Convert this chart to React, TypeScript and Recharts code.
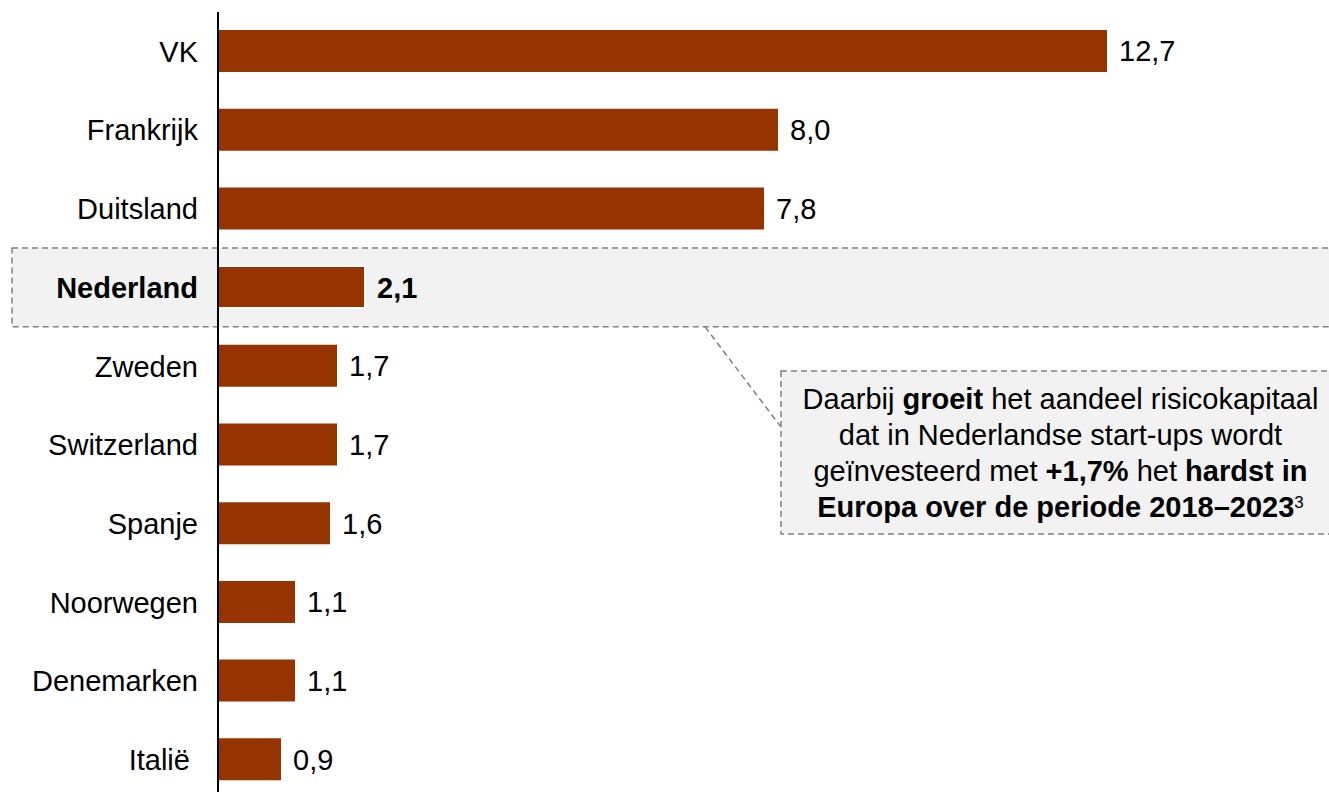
import { BarChart, Bar, XAxis, YAxis, Cell, LabelList } from 'recharts';

const categories = [
  'VK',
  'Frankrijk',
  'Duitsland',
  'Nederland',
  'Zweden',
  'Switzerland',
  'Spanje',
  'Noorwegen',
  'Denemarken',
  'Italië\u00a0',
];
const values = [12.7, 8.0, 7.8, 2.1, 1.7, 1.7, 1.6, 1.1, 1.1, 0.9];
const highlighted = 'Nederland';

const data = categories.map((name, i) => ({ name, value: values[i] }));

const WIDTH = 1329;
const HEIGHT = 799;
const TOP = 12;
const AXIS_W = 218;
const BAR_COLOR = '#963400';
const FONT = '"Liberation Sans", Arial, sans-serif';
const FONT_SIZE = 29;

const band = (HEIGHT - TOP) / categories.length;
const hlIndex = categories.indexOf(highlighted);
const hlTop = TOP + hlIndex * band;
const hlBottom = hlTop + band;

const fmt = (v: number) => v.toFixed(1).replace('.', ',');

const CategoryTick = (props: any) => {
  const { x, y, payload } = props;
  return (
    <text
      x={x}
      y={y}
      dy="0.36em"
      textAnchor="end"
      fill="#000"
      fontSize={FONT_SIZE}
      fontFamily={FONT}
      fontWeight={payload.value === highlighted ? 'bold' : 'normal'}
    >
      {payload.value}
    </text>
  );
};

const ValueLabel = (props: any) => {
  const { x, y, width, height, value, index } = props;
  return (
    <text
      x={x + width + 12}
      y={y + height / 2}
      dy="0.36em"
      fill="#000"
      fontSize={FONT_SIZE}
      fontFamily={FONT}
      fontWeight={categories[index] === highlighted ? 'bold' : 'normal'}
    >
      {fmt(value)}
    </text>
  );
};

export default function App() {
  return (
    <div style={{ position: 'absolute', left: 0, top: 0, width: WIDTH, height: HEIGHT, fontFamily: FONT }}>
      {/* highlight band behind Nederland */}
      <svg width={WIDTH} height={HEIGHT} style={{ position: 'absolute', left: 0, top: 0 }}>
        <rect
          x={12}
          y={hlTop}
          width={WIDTH + 20}
          height={band}
          fill="#f2f2f2"
          stroke="#808080"
          strokeWidth={1.5}
          strokeDasharray="6 4"
        />
      </svg>

      <div style={{ position: 'absolute', left: 0, top: 0 }}>
        <BarChart
          width={WIDTH}
          height={HEIGHT}
          data={data}
          layout="vertical"
          margin={{ top: TOP, right: 61, bottom: 0, left: 0 }}
        >
          <XAxis type="number" domain={[0, 15]} hide />
          <YAxis
            type="category"
            dataKey="name"
            width={AXIS_W}
            axisLine={{ stroke: '#000', strokeWidth: 2 }}
            tickLine={false}
            tickSize={0}
            tickMargin={20}
            interval={0}
            tick={<CategoryTick />}
          />
          <Bar dataKey="value" barSize={42} fill={BAR_COLOR} isAnimationActive={false}>
            {data.map((d) => (
              <Cell
                key={d.name}
                fill={BAR_COLOR}
                stroke={d.name === highlighted ? '#fff' : 'none'}
                strokeWidth={d.name === highlighted ? 2 : 0}
              />
            ))}
            <LabelList dataKey="value" content={<ValueLabel />} />
          </Bar>
        </BarChart>
      </div>

      {/* callout */}
      <svg width={WIDTH} height={HEIGHT} style={{ position: 'absolute', left: 0, top: 0, pointerEvents: 'none' }}>
        <line x1={705} y1={hlBottom} x2={781} y2={427} stroke="#808080" strokeWidth={1.5} strokeDasharray="6 4" />
        <rect
          x={781}
          y={371}
          width={600}
          height={163}
          fill="#f2f2f2"
          stroke="#808080"
          strokeWidth={1.5}
          strokeDasharray="6 4"
        />
      </svg>
      <div
        style={{
          position: 'absolute',
          left: 781,
          top: 371,
          width: 559,
          height: 163,
          display: 'flex',
          alignItems: 'center',
          justifyContent: 'center',
          textAlign: 'center',
          fontSize: FONT_SIZE,
          lineHeight: '36px',
          color: '#000',
          whiteSpace: 'nowrap',
        }}
      >
        <div>
          Daarbij <b>groeit</b> het aandeel risicokapitaal
          <br />
          dat in Nederlandse start-ups wordt
          <br />
          geïnvesteerd met <b>+1,7%</b> het <b>hardst in</b>
          <br />
          <b>Europa over de periode 2018–2023</b>
          <sup style={{ fontSize: 17, verticalAlign: 'top', lineHeight: '28px' }}>3</sup>
        </div>
      </div>
    </div>
  );
}
